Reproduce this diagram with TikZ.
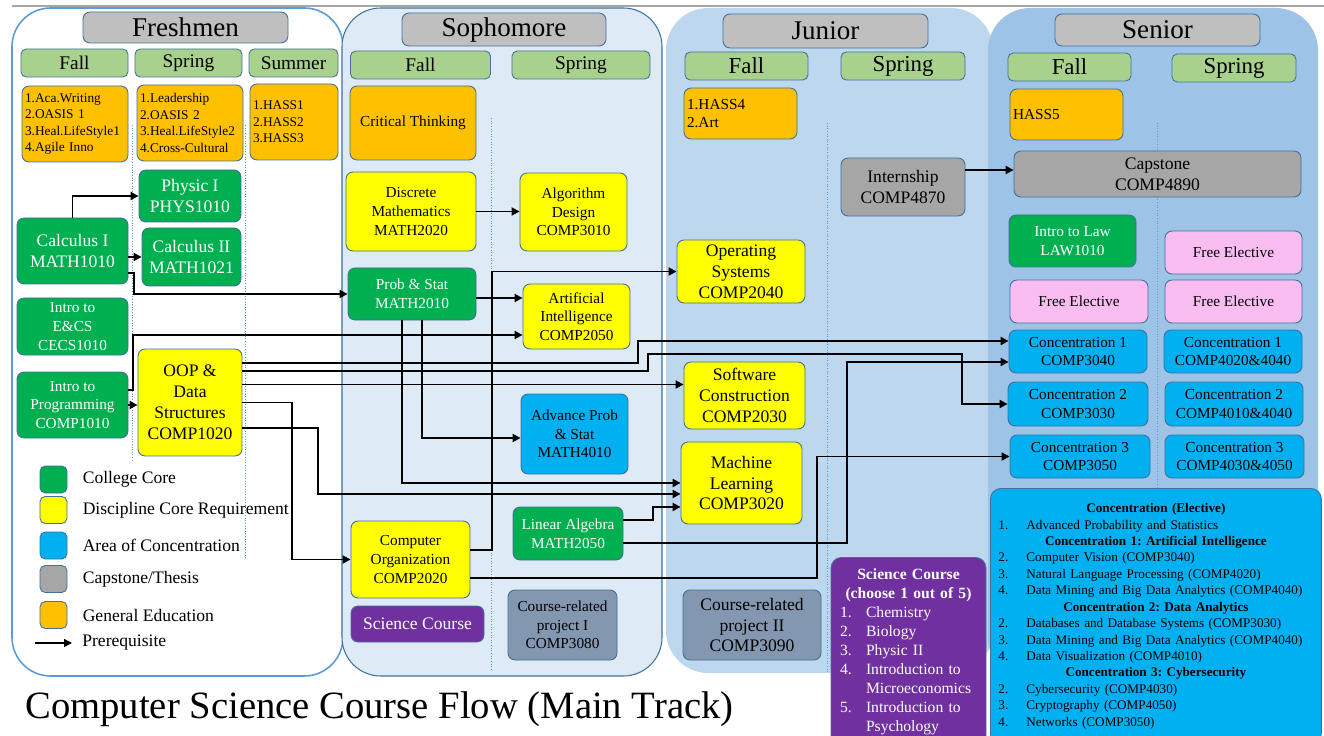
\documentclass[tikz,border=0pt]{standalone}
\usepackage{fontspec}
\setmainfont{Liberation Serif}
\usetikzlibrary{arrows.meta,positioning,calc}

\definecolor{edge}{HTML}{41719C}
\definecolor{yearcol}{HTML}{BFBFBF}
\definecolor{seasoncol}{HTML}{A9D18E}
\definecolor{genedcol}{HTML}{FFC000}
\definecolor{corecol}{HTML}{00B050}
\definecolor{disccol}{HTML}{FFFF00}
\definecolor{conccol}{HTML}{00B0F0}
\definecolor{capcol}{HTML}{A6A6A6}
\definecolor{projcol}{HTML}{8497B0}
\definecolor{scicol}{HTML}{7030A0}
\definecolor{freecol}{HTML}{F9BDF2}
\definecolor{freshline}{HTML}{5B9BD5}
\definecolor{sophfill}{HTML}{DEEBF7}
\definecolor{junfill}{HTML}{BDD7EE}
\definecolor{senfill}{HTML}{9DC3E6}

\newcommand{\fsTitle}{\fontsize{22}{26}\selectfont}
\newcommand{\fsYear}{\fontsize{15.4}{18}\selectfont}
\newcommand{\fsSem}{\fontsize{11}{13}\selectfont}
\newcommand{\fsSemB}{\fontsize{13}{15}\selectfont}
\newcommand{\fsBox}{\fontsize{8.7}{10.6}\selectfont}
\newcommand{\fsBig}{\fontsize{10}{11.9}\selectfont}
\newcommand{\fsGen}{\fontsize{7.6}{9.4}\selectfont}
\newcommand{\fsList}{\fontsize{7.5}{9.35}\selectfont}
\newcommand{\fsSci}{\fontsize{8.9}{10.8}\selectfont}
\newcommand{\fsLeg}{\fontsize{10}{12}\selectfont}

% list lines for the two text panels
\newcommand{\lhead}[1]{{\centering\bfseries #1\par}}
\newcommand{\litem}[2]{\makebox[0.56cm][l]{#1.}#2\par}
\newcommand{\sitem}[2]{\makebox[0.52cm][l]{#1.}#2\par}

% box size in pixels of the original chart
\tikzset{wh/.style 2 args={minimum width=#1*0.02cm, minimum height=#2*0.02cm}}

\frenchspacing

\begin{document}
\begin{tikzpicture}[
    x=0.02cm, y=-0.02cm,
    box/.style={draw=edge, line width=0.5pt, rounded corners=4pt, align=center, inner sep=1pt, font=\fsBox},
    year/.style={box, fill=yearcol, font=\fsYear},
    season/.style={box, fill=seasoncol, rounded corners=3pt, font=\fsSem},
    gened/.style={box, fill=genedcol, align=left, inner xsep=0.06cm, font=\fsGen},
    college/.style={box, fill=corecol, text=white},
    discipline/.style={box, fill=disccol},
    conc/.style={box, fill=conccol},
    capstone/.style={box, fill=capcol},
    project/.style={box, fill=projcol},
    science/.style={box, fill=scicol, text=white},
    freeel/.style={box, fill=freecol},
    legbox/.style={draw=edge, line width=0.5pt, rounded corners=3pt, wh={27}{27}},
    legtext/.style={inner sep=0pt, font=\fsLeg},
    divider/.style={freshline, densely dotted, line width=0.5pt},
    arr/.style={-{Triangle[length=4.5pt,width=4.5pt]}, line width=1.1pt}
]
\useasboundingbox (0,0) rectangle (1324,736);
\clip (0,0) rectangle (1324,736);

% year panels
\draw[gray!70, line width=0.6pt] (12,6) -- (1324,6);
\draw[freshline, line width=0.9pt, fill=white, rounded corners=22pt] (12,8) rectangle (343,676);
\draw[edge, line width=0.6pt, fill=sophfill, rounded corners=22pt] (342,8) rectangle (662,676);
\fill[junfill, rounded corners=24pt] (666,8) rectangle (993,673);
\fill[senfill, rounded corners=24pt] (988,8) rectangle (1318,680);

\draw[divider] (132,125) -- (132,462);
\draw[divider] (245,125) -- (245,558);
\draw[divider] (491,118) -- (491,670);
\draw[divider] (827,123) -- (827,672);
\draw[divider] (1157,123) -- (1157,488);

% headers
\node[year, wh={205}{31}] (fresh) at (185.5,27.5) {Freshmen};
\node[year, wh={204}{33}] (soph) at (504,29.5) {Sophomore};
\node[year, wh={205}{34}] (junior) at (825.5,31) {Junior};
\node[year, wh={205}{32}] (senior) at (1157.5,30) {Senior};

\node[season, wh={107}{28}] (fFall) at (74.5,63) {Fall};
\node[season, wh={107}{28}] (fSpring) at (188.5,63) {Spring};
\node[season, wh={89}{28}] (fSummer) at (293.5,63) {Summer};
\node[season, wh={140}{28}] (sFall) at (420.5,65) {Fall};
\node[season, wh={138}{28}] (sSpring) at (581,65) {Spring};
\node[season, wh={123}{28}, font=\fsSemB] (jFall) at (746.5,66) {Fall};
\node[season, wh={124}{28}, font=\fsSemB] (jSpring) at (903,66) {Spring};
\node[season, wh={123}{28}, font=\fsSemB] (nFall) at (1069.5,67) {Fall};
\node[season, wh={124}{28}, font=\fsSemB] (nSpring) at (1234,68) {Spring};

% general education
\node[gened, wh={106}{76}, text width=2cm] (geFF) at (75,124) {1.Aca.Writing\\2.OASIS 1\\3.Heal.LifeStyle1\\4.Agile Inno};
\node[gened, wh={106}{76}, text width=2cm] (geFS) at (190,123) {1.Leadership\\2.OASIS 2\\3.Heal.LifeStyle2\\4.Cross-Cultural};
\node[gened, wh={88}{76}, text width=1.64cm] (geFU) at (294,122) {1.HASS1\\2.HASS2\\3.HASS3};
\node[box, fill=genedcol, wh={126}{74}] (crit) at (413,123) {Critical Thinking};
\node[gened, wh={113}{51}, text width=2.14cm, font=\fsBox] (geJF) at (740.5,113.5) {1.HASS4\\2.Art};
\node[gened, wh={113}{51}, text width=2.14cm, font=\fsBox] (hass5) at (1066.5,114.5) {HASS5};

% college core
\node[college, wh={102}{52}, font=\fsBig] (phys1) at (190,196) {Physic I\\PHYS1010};
\node[college, wh={99}{58}, font=\fsBig] (calc2) at (191.5,257) {Calculus II\\MATH1021};
\node[college, wh={111}{66}, font=\fsBig] (calc1) at (72.5,251) {Calculus I\\MATH1010};
\node[college, wh={111}{57}] (ecs) at (72.5,326.5) {Intro to\\E\&CS\\CECS1010};
\node[college, wh={111}{66}] (iprog) at (72.5,405) {Intro to\\Programming\\COMP1010};
\node[college, wh={128}{52}] (prob) at (412,294) {Prob \& Stat\\MATH2010};
\node[college, wh={110}{53}] (linalg) at (568,533.5) {Linear Algebra\\MATH2050};
\node[college, wh={127}{52}] (law) at (1072.5,241) {Intro to Law\\LAW1010};

% discipline core
\node[discipline, wh={104}{107}, font=\fsBig] (oop) at (190,402.5) {OOP \&\\Data\\Structures\\COMP1020};
\node[discipline, wh={130}{79}] (disc) at (411,211.5) {Discrete\\Mathematics\\MATH2020};
\node[discipline, wh={107}{78}] (algo) at (573.5,212) {Algorithm\\Design\\COMP3010};
\node[discipline, wh={107}{65}] (ai) at (576.5,316.5) {Artificial\\Intelligence\\COMP2050};
\node[discipline, wh={119}{77}] (comporg) at (410.5,559.5) {Computer\\Organization\\COMP2020};
\node[discipline, wh={128}{63}, font=\fsBig] (os) at (741,271.5) {Operating\\Systems\\COMP2040};
\node[discipline, wh={121}{67}, font=\fsBig] (sc) at (744.5,395.5) {Software\\Construction\\COMP2030};
\node[discipline, wh={121}{82}, font=\fsBig] (ml) at (741.5,483) {Machine\\Learning\\COMP3020};

% concentration
\node[conc, wh={107}{80}] (advprob) at (574.5,434) {Advance Prob\\\& Stat\\MATH4010};
\node[conc, wh={138}{43}] (c1a) at (1078,351.5) {Concentration 1\\COMP3040};
\node[conc, wh={138}{43}] (c1b) at (1233,351.5) {Concentration 1\\COMP4020\&4040};
\node[conc, wh={140}{44}] (c2a) at (1078,404) {Concentration 2\\COMP3030};
\node[conc, wh={138}{44}] (c2b) at (1234,404) {Concentration 2\\COMP4010\&4040};
\node[conc, wh={140}{43}] (c3a) at (1080,456.5) {Concentration 3\\COMP3050};
\node[conc, wh={139}{43}] (c3b) at (1234.5,456.5) {Concentration 3\\COMP4030\&4050};

% capstone, projects, science, electives
\node[capstone, wh={124}{58}, font=\fsBig] (intern) at (903,187) {Internship\\COMP4870};
\node[capstone, wh={287}{46}, font=\fsBig] (capst) at (1157.5,174) {Capstone\\COMP4890};
\node[project, wh={109}{70}] (proj1) at (562.5,625) {Course-related\\project I\\COMP3080};
\node[project, wh={138}{70}, font=\fsBig] (proj2) at (752,625) {Course-related\\project II\\COMP3090};
\node[science, wh={133}{36}, font=\fsBig] (sci) at (417.5,624) {Science Course};
\node[freeel, wh={137}{43}] (fe1) at (1233.5,252.5) {Free Elective};
\node[freeel, wh={138}{43}] (fe2) at (1079,301.5) {Free Elective};
\node[freeel, wh={137}{43}] (fe3) at (1233.5,301.5) {Free Elective};

\node[science, anchor=north, text width=2.74cm, inner xsep=0.18cm, inner ysep=6.5pt, rounded corners=6pt, align=left, font=\fsSci] (scilist) at (908.5,557) {%
\lhead{Science Course\\(choose 1 out of 5)}
\sitem{1}{Chemistry}
\sitem{2}{Biology}
\sitem{3}{Physic II}
\sitem{4}{Introduction to}
\hspace*{0.52cm}Microeconomics\par
\sitem{5}{Introduction to}
\hspace*{0.52cm}Psychology\par};

\node[conc, anchor=north west, text width=6.3cm, inner xsep=0.16cm, inner ysep=0.3cm, rounded corners=6pt, align=left, font=\fsList] (electives) at (990,488) {%
\lhead{Concentration (Elective)}
\litem{1}{Advanced Probability and Statistics}
\lhead{Concentration 1: Artificial Intelligence}
\litem{2}{Computer Vision (COMP3040)}
\litem{3}{Natural Language Processing (COMP4020)}
\litem{4}{Data Mining and Big Data Analytics (COMP4040)}
\lhead{Concentration 2: Data Analytics}
\litem{2}{Databases and Database Systems (COMP3030)}
\litem{3}{Data Mining and Big Data Analytics (COMP4040)}
\litem{4}{Data Visualization (COMP4010)}
\lhead{Concentration 3: Cybersecurity}
\litem{2}{Cybersecurity (COMP4030)}
\litem{3}{Cryptography (COMP4050)}
\litem{4}{Networks (COMP3050)}};

% legend
\node[legbox, fill=corecol] (lgCore) at (53.5,479.5) {};
\node[legbox, fill=disccol] (lgDisc) at (53.5,510) {};
\node[legbox, fill=conccol] (lgConc) at (53.5,545.5) {};
\node[legbox, fill=capcol] (lgCap) at (53.5,579) {};
\node[legbox, fill=genedcol] (lgGen) at (53.5,615) {};
\node[legtext, right=0.3cm of lgCore] (ltCore) {College Core};
\node[legtext, right=0.3cm of lgDisc] (ltDisc) {Discipline Core Requirement};
\node[legtext, right=0.3cm of lgConc] (ltConc) {Area of Concentration};
\node[legtext, right=0.3cm of lgCap] (ltCap) {Capstone/Thesis};
\node[legtext, right=0.3cm of lgGen] (ltGen) {General Education};
\coordinate (lgA) at (35,643);
\coordinate (lgB) at (72,643);
\draw[arr, line width=0.8pt] (lgA) -- (lgB);
\node[legtext, right=0.2cm of lgB] (ltPre) {Prerequisite};

\node[anchor=base west, inner sep=0pt, font=\fsTitle] (title) at (25,718) {Computer Science Course Flow (Main Track)};

% prerequisites
\draw[arr] (calc1.north) |- (phys1.west);
\draw[arr] (calc1.east |- calc2.west) -- (calc2.west);
\draw[arr] ($(calc1.east)+(0,22)$) -- ++(6,0) |- (prob.west);
\draw[arr] ($(iprog.east)+(0,-15)$) -- ++(5,0) |- ($(ai.west)+(0,18.5)$);
\draw[arr] (iprog.east) -- (iprog.east -| oop.west);
\draw[arr] ($(oop.east)+(0,-39.5)$) -- ++(396,0) |- ($(c1a.west)+(0,-10.5)$);
\draw[arr] ($(oop.east)+(0,-31.5)$) -- ++(406,0) -- ++(0,-17) -- ++(314,0) |- (c2a.west);
\draw[arr] ($(oop.east)+(0,-18)$) -- ($(sc.west)+(0,-11)$);
\draw[arr] (oop.east) -- ++(50,0) |- (comporg.west);
\draw[arr] ($(oop.east)+(0,25.5)$) -- ++(76,0) |- ($(ml.west)+(0,11)$);
\draw[arr] ($(prob.east)+(0,4)$) -- ($(ai.west)+(0,-18.5)$);
\draw[arr] ($(prob.south)+(-10,0)$) |- (ml.west);
\draw[arr] ($(prob.south)+(10,0)$) |- ($(advprob.west)+(0,4)$);
\draw[arr] (disc.east) -- (disc.east -| algo.west);
\draw[arr] ($(comporg.east)+(0,-9.5)$) -- ++(22,0) |- (os.west);
\draw[arr] ($(comporg.east)+(0,18.5)$) -- ++(347,0) |- (c3a.west);
\draw[arr] ($(linalg.east)+(0,-13.5)$) -- ++(30,0) |- ($(ml.west)+(0,24)$);
\draw[arr] ($(linalg.east)+(0,9.5)$) -- ++(224,0) |- ($(c1a.west)+(0,10.5)$);
\draw[arr] ($(intern.east)+(0,-17)$) -- ($(capst.west)+(0,-4)$);
\end{tikzpicture}
\end{document}
